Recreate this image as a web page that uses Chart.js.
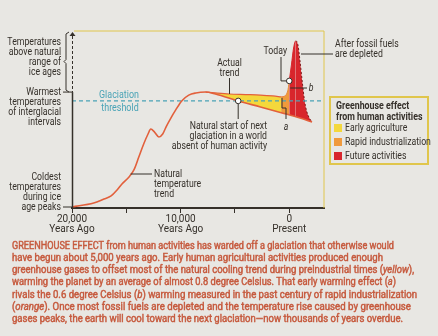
<!DOCTYPE html>
<html>
<head>
<meta charset="utf-8">
<script src="https://cdn.jsdelivr.net/npm/chart.js@4.4.1/dist/chart.umd.min.js"></script>
<style>
  html, body { margin: 0; padding: 0; background: #e8e7e3; }
  #wrap { width: 438px; height: 336px; }
</style>
</head>
<body>
<div id="wrap"><canvas id="glaciationChart" width="438" height="336"></canvas></div>
<script>
    // years relative to present (negative = years ago), temps on a 0-100 schematic scale
    const naturalYears = [-20000, -18000, -17050, -16400, -15850, -15400, -14750, -14300, -13850, -13400, -13000, -12750, -12400, -12000, -11650, -11300, -10900, -10450, -9900, -9250, -8600, -7700, -6800, -4700, -2650, -650, 1000, 2100];
    const naturalTemps = [0.6, 2.8, 5.1, 6.8, 10.2, 13.6, 17.5, 21.5, 28.8, 36.2, 41.8, 44.6, 42.9, 40.1, 41.8, 46.3, 50.8, 55.4, 60.5, 63.8, 65.0, 65.5, 64.4, 60.5, 57.1, 53.7, 50.8, 48.6];

    const earlyAgYears = [-7700, -6800, -5500, -4000, -2650, -1500, -750];
    const earlyAgTemps = [65.5, 65.0, 64.4, 64.1, 63.8, 63.3, 62.8];

    const industrialYears = [-750, -400, -200, -80, 0];
    const industrialTemps = [62.8, 63.3, 65.0, 68.0, 71.8];

    const futureYears = [0, 200, 400, 600, 800, 1000, 1200, 1400, 1600, 1850, 2100];
    const futureTemps = [71.8, 80.8, 90.4, 94.4, 92.1, 82.5, 71.2, 61.0, 54.8, 50.8, 48.6];

    const thresholdTemp = 60.5;
    const warmestTemp = 65.5;
    const markerYears = [-4700, 0];
    const markerTemps = [60.5, 71.8];

    const xTickValues = [-20000, -15000, -10000, -5000, 0];
    const xTickLabels = { '-20000': ['20,000', 'Years Ago'], '-10000': ['10,000', 'Years Ago'], '0': ['0', 'Present'] };

    const legendTitle = ['Greenhouse effect', 'from human activities'];
    const legendLabels = ['Early agriculture', 'Rapid industrialization', 'Future activities'];

    const captionLines = [
        'GREENHOUSE EFFECT from human activities has warded off a glaciation that otherwise would',
        'have begun about 5,000 years ago. Early human agricultural activities produced enough',
        'greenhouse gases to offset most of the natural cooling trend during preindustrial times (_yellow_),',
        'warming the planet by an average of almost 0.8 degree Celsius. That early warming effect (_a_)',
        'rivals the 0.6 degree Celsius (_b_) warming measured in the past century of rapid industrialization',
        '(_orange_). Once most fossil fuels are depleted and the temperature rise caused by greenhouse',
        'gases peaks, the earth will cool toward the next glaciation\u2014now thousands of years overdue.'
    ];
    const captionWidths = [382, 371, 402, 384, 405, 399, 391];

    const INK = '#35302a';
    const LINE = '#e2603c';
    const YELLOW = '#f4d83c';
    const ORANGE = '#f09a3c';
    const RED = '#d8262c';
    const TEAL = '#49a3b6';
    const FRAME = '#e0c64c';
    const CAPTION = '#c65a3e';

    const toXY = (xs, ys) => xs.map((x, i) => ({ x: x, y: ys[i] }));

    /**
     * text helpers - canvas text squeezed a bit to mimic the condensed magazine face
     */
    function say(ctx, str, x, y, align, opts = {}) {
        ctx.save();
        ctx.font = opts.font || '10px Roboto';
        ctx.fillStyle = opts.color || INK;
        ctx.textAlign = align;
        ctx.textBaseline = 'middle';
        ctx.translate(x, y);
        ctx.scale(opts.squeeze || 0.87, 1);
        ctx.fillText(str, 0, 0);
        ctx.restore();
    }

    function richLine(ctx, line, x, y, width) {
        const parts = line.split('_');
        const fontFor = i => (i % 2 ? 'italic 10px Roboto' : '10px Roboto');
        ctx.save();
        let total = 0;
        parts.forEach((p, i) => { ctx.font = fontFor(i); total += ctx.measureText(p).width; });
        ctx.translate(x, y);
        ctx.scale(width / total, 1);
        ctx.textAlign = 'left';
        ctx.textBaseline = 'middle';
        ctx.fillStyle = CAPTION;
        ctx.strokeStyle = CAPTION;
        ctx.lineWidth = 0.45;
        let cx = 0;
        parts.forEach((p, i) => {
            ctx.font = fontFor(i);
            ctx.fillText(p, cx, 0);
            ctx.strokeText(p, cx, 0);   // fake a medium weight
            cx += ctx.measureText(p).width;
        });
        ctx.restore();
    }

    function seg(ctx, pts, color, dash) {
        ctx.save();
        ctx.strokeStyle = color || INK;
        ctx.lineWidth = 1;
        ctx.setLineDash(dash || []);
        ctx.beginPath();
        pts.forEach((p, i) => (i ? ctx.lineTo(p[0], p[1]) : ctx.moveTo(p[0], p[1])));
        ctx.stroke();
        ctx.restore();
    }

    /**
     * Labels, brackets, callouts, legend and caption
     */
    const notesPlugin = {
        id: 'glaciationNotes',
        afterDraw(chart) {
            const ctx = chart.ctx;
            const area = chart.chartArea;
            const X = v => chart.scales.x.getPixelForValue(v);
            const Y = v => chart.scales.y.getPixelForValue(v);

            // plot frame (yellow top + right)
            seg(ctx, [[area.left + 2, area.top], [area.right, area.top], [area.right, area.bottom]], FRAME);

            // y axis: dashed above the warmest level, solid below, arrow on top
            const ax = area.left + 0.5;
            const yWarm = Y(warmestTemp);
            seg(ctx, [[ax, area.top + 5], [ax, yWarm]], INK, [3, 2]);
            ctx.save();
            ctx.strokeStyle = INK; ctx.lineWidth = 1.5;
            ctx.beginPath(); ctx.moveTo(ax, yWarm); ctx.lineTo(ax, area.bottom); ctx.stroke();
            ctx.fillStyle = INK;
            ctx.beginPath(); ctx.moveTo(ax, area.top + 1); ctx.lineTo(ax - 3, area.top + 5); ctx.lineTo(ax + 3, area.top + 5); ctx.fill();
            ctx.restore();

            // bracket for "above natural range"
            const bx = area.left - 6;
            const bMid = (area.top + yWarm) / 2;
            seg(ctx, [[bx + 3, area.top + 1], [bx, area.top + 3], [bx, bMid - 2], [bx - 2, bMid], [bx, bMid + 2], [bx, yWarm - 2], [bx + 3, yWarm]]);
            seg(ctx, [[area.left - 9, yWarm], [area.left, yWarm]]);
            seg(ctx, [[area.left - 9, Y(0) - 1], [area.left, Y(0) - 1]]);

            // left labels
            const lx = area.left - 11;
            ['Temperatures', 'above natural', 'range of', 'ice ages'].forEach((t, i) => say(ctx, t, lx, bMid + 1 + (i - 2) * 10, 'right'));
            ['Warmest', 'temperatures', 'of interglacial', 'intervals'].forEach((t, i) => say(ctx, t, lx, yWarm + i * 10, 'right'));
            ['Coldest', 'temperatures', 'during ice', 'age peaks'].forEach((t, i) => say(ctx, t, lx, Y(0) - 1 + (i - 3) * 10, 'right'));

            // glaciation threshold label
            say(ctx, 'Glaciation', 119, Y(thresholdTemp) - 6, 'center', { color: TEAL, font: '10.5px Roboto', squeeze: 0.85 });
            say(ctx, 'threshold', 120, Y(thresholdTemp) + 7, 'center', { color: TEAL, font: '10.5px Roboto', squeeze: 0.85 });

            // actual trend callout
            seg(ctx, [[X(-5500), 78], [X(-5500), Y(64.4)]]);
            say(ctx, 'Actual', X(-5500), 63, 'center');
            say(ctx, 'trend', X(-5500), 73, 'center');

            // natural start of next glaciation
            seg(ctx, [[X(markerYears[0]), Y(markerTemps[0]) + 3], [X(markerYears[0]), 119]]);
            ['Natural start of next', 'glaciation in a world', 'absent of human activity'].forEach((t, i) => say(ctx, t, 267, 126 + i * 10, 'right'));

            // natural temperature trend
            seg(ctx, [[X(-14600), 174], [152, 174]]);
            ['Natural', 'temperature', 'trend'].forEach((t, i) => say(ctx, t, 154, 174 + i * 10, 'left'));

            // today
            const tx = X(0), ty = Y(markerTemps[1]);
            seg(ctx, [[281, 57], [281, ty], [tx - 3, ty]]);
            say(ctx, 'Today', 287, 51, 'right');

            // after fossil fuels
            seg(ctx, [[301, 54], [333, 54]]);
            say(ctx, 'After fossil fuels', 335, 44, 'left');
            say(ctx, 'are depleted', 335, 54, 'left');

            // a and b markers
            seg(ctx, [[tx + 1, 88], [307, 88]]);
            say(ctx, 'b', 311, 88, 'center', { font: 'italic 10px Roboto' });
            seg(ctx, [[282, Y(62.8) + 1], [282, 108], [286, 108], [286, 119]]);
            say(ctx, 'a', 286, 127, 'center', { font: 'italic 10px Roboto' });

            // legend box
            ctx.save();
            ctx.strokeStyle = FRAME;
            ctx.lineWidth = 2;
            ctx.strokeRect(330, 97, 98, 67);
            ctx.restore();
            legendTitle.forEach((t, i) => say(ctx, t, 336, 106 + i * 11, 'left', { font: 'bold 10.5px Roboto', squeeze: 0.84 }));
            const swatches = [YELLOW, ORANGE, RED];
            legendLabels.forEach((t, i) => {
                const yy = 128 + i * 14;
                ctx.fillStyle = swatches[i];
                ctx.fillRect(334, yy - 4, 8, 8);
                say(ctx, t, 345, yy, 'left');
            });

            // caption
            captionLines.forEach((line, i) => richLine(ctx, line, 12, 246 + i * 12.3, captionWidths[i]));
        }
    };

    /**
     * Chart
     */
    const ctx = document.getElementById('glaciationChart').getContext('2d');

    new Chart(ctx, {
        type: 'line',
        data: {
            datasets: [
                {
                    label: 'Natural temperature trend',
                    data: toXY(naturalYears, naturalTemps),
                    borderColor: LINE,
                    borderWidth: 1.6,
                    pointRadius: 0,
                    cubicInterpolationMode: 'monotone',
                    fill: false,
                    order: 1
                },
                {
                    label: legendLabels[0],
                    data: toXY(earlyAgYears, earlyAgTemps),
                    borderColor: LINE,
                    borderWidth: 1.2,
                    pointRadius: 0,
                    cubicInterpolationMode: 'monotone',
                    fill: { target: 0, above: YELLOW, below: YELLOW },
                    order: 3
                },
                {
                    label: legendLabels[1],
                    data: toXY(industrialYears, industrialTemps),
                    borderColor: '#e8843a',
                    borderWidth: 1,
                    pointRadius: 0,
                    cubicInterpolationMode: 'monotone',
                    fill: { target: 0, above: ORANGE, below: ORANGE },
                    order: 3
                },
                {
                    label: legendLabels[2],
                    data: toXY(futureYears, futureTemps),
                    borderWidth: 1,
                    pointRadius: 0,
                    cubicInterpolationMode: 'monotone',
                    fill: { target: 0, above: RED, below: RED },
                    segment: {
                        borderColor: c => (c.p0.parsed.x >= 600 ? '#7a1a1a' : RED),
                        borderDash: c => (c.p0.parsed.x >= 600 ? [2, 2] : [])
                    },
                    order: 3
                },
                {
                    label: 'Glaciation threshold',
                    data: [{ x: -20000, y: thresholdTemp }, { x: 3200, y: thresholdTemp }],
                    borderColor: TEAL,
                    borderWidth: 1.2,
                    borderDash: [4, 3],
                    pointRadius: 0,
                    fill: false,
                    order: 2
                },
                {
                    label: 'markers',
                    data: toXY(markerYears, markerTemps),
                    showLine: false,
                    pointRadius: 2.8,
                    pointBackgroundColor: '#ffffff',
                    pointBorderColor: INK,
                    pointBorderWidth: 1,
                    order: 0
                }
            ]
        },
        options: {
            responsive: false,
            animation: false,
            devicePixelRatio: 1,
            layout: { padding: { left: 72, right: 114, top: 31, bottom: 0 } },
            plugins: { legend: { display: false }, tooltip: { enabled: false } },
            scales: {
                x: {
                    type: 'linear',
                    min: -20000,
                    max: 3200,
                    afterBuildTicks: s => { s.ticks = xTickValues.map(v => ({ value: v })); },
                    afterFit: s => { s.height = 128; },
                    ticks: {
                        autoSkip: false,
                        maxRotation: 0,
                        padding: 1,
                        color: INK,
                        font: { family: 'Roboto', size: 10, lineHeight: 1.0 },
                        callback: v => xTickLabels[v] || ''
                    },
                    grid: { drawOnChartArea: false, drawTicks: true, tickLength: 5, color: INK, lineWidth: 1 },
                    border: { color: INK, width: 2 }
                },
                y: { display: false, min: 0, max: 100 }
            }
        },
        plugins: [notesPlugin]
    });
</script>
</body>
</html>
